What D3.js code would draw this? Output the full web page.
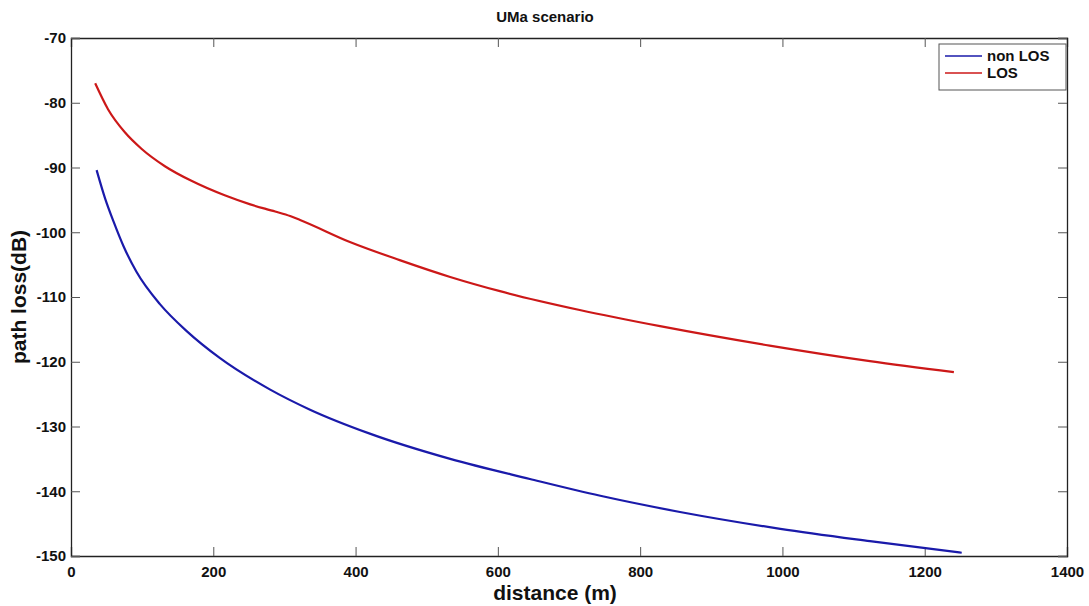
<!DOCTYPE html>
<html>
<head>
<meta charset="utf-8">
<script src="https://cdn.jsdelivr.net/npm/d3@7"></script>
<style>
  html, body { margin: 0; padding: 0; background: #fff; }
  svg { display: block; font-family: "Liberation Sans", Arial, Helvetica, sans-serif; }
</style>
</head>
<body>
<svg id="chart" width="1089" height="606"></svg>
<script>
// ---- data ----
const title = "UMa scenario";
const xLabel = "distance (m)";
const yLabel = "path loss(dB)";
const xTicks = [0, 200, 400, 600, 800, 1000, 1200, 1400];
const yTicks = [-70, -80, -90, -100, -110, -120, -130, -140, -150];
const seriesNames = ["non LOS", "LOS"];

const nlosDistance = [36, 48, 60, 74, 92, 125, 163, 209, 280, 336, 420, 533, 645, 744, 856, 997, 1123, 1252];
const nlosLoss = [-90.4, -94.8, -98.4, -102.2, -106.1, -111.1, -115.3, -119.4, -124.3, -127.4, -131.1, -135.0, -138.1, -140.7, -143.2, -145.8, -147.7, -149.5];

const losDistance = [34, 52, 76, 99, 132, 170, 216, 252, 287, 308, 322, 392, 462, 533, 603, 715, 828, 982, 1123, 1241];
const losLoss = [-77.0, -81.0, -84.6, -87.1, -89.8, -92.1, -94.3, -95.7, -96.8, -97.5, -98.1, -101.5, -104.3, -106.9, -109.1, -112.0, -114.5, -117.5, -119.9, -121.6];

// ---- layout ----
const svg = d3.select("#chart");
const L = 71, R = 1067, T = 38, B = 556;

const x = d3.scaleLinear().domain([0, 1400]).range([L, R]);
const y = d3.scaleLinear().domain([-150, -70]).range([B, T]);

svg.append("rect").attr("x", 0).attr("y", 0).attr("width", 1089).attr("height", 606).attr("fill", "#fff");

// axes with inward ticks (MATLAB style)
const tickLen = 9;
const fmt = d => String(d);
const axB = svg.append("g").attr("transform", `translate(0,${B})`)
  .call(d3.axisBottom(x).tickValues(xTicks).tickSize(-tickLen).tickPadding(7).tickFormat(fmt));
const axT = svg.append("g").attr("transform", `translate(0,${T})`)
  .call(d3.axisTop(x).tickValues(xTicks).tickSize(-tickLen).tickFormat(""));
const axL = svg.append("g").attr("transform", `translate(${L},0)`)
  .call(d3.axisLeft(y).tickValues(yTicks).tickSize(-tickLen).tickPadding(5).tickFormat(fmt));
const axR = svg.append("g").attr("transform", `translate(${R},0)`)
  .call(d3.axisRight(y).tickValues(yTicks).tickSize(-tickLen).tickFormat(""));

[axB, axT, axL, axR].forEach(g => {
  g.select(".domain").attr("stroke", "#222").attr("stroke-width", 1.3);
  g.selectAll(".tick line").attr("stroke", "#555").attr("stroke-width", 1);
  g.selectAll(".tick text").attr("fill", "#111").style("font-size", "15px").style("font-weight", "bold")
    .style("font-family", "'Liberation Sans', Arial, sans-serif");
});
axB.selectAll(".tick text").attr("dy", "0.9em");

// lines
const line = d3.line().x(d => x(d[0])).y(d => y(d[1])).curve(d3.curveMonotoneX);
const nlos = nlosDistance.map((d, i) => [d, nlosLoss[i]]);
const los = losDistance.map((d, i) => [d, losLoss[i]]);
const colors = ["#1a1aaa", "#cc1818"];

svg.append("path").datum(nlos).attr("d", line).attr("fill", "none")
  .attr("stroke", colors[0]).attr("stroke-width", 2.2);
svg.append("path").datum(los).attr("d", line).attr("fill", "none")
  .attr("stroke", colors[1]).attr("stroke-width", 2.2);

// title and labels
svg.append("text").attr("x", 545).attr("y", 22).attr("text-anchor", "middle")
  .style("font-size", "15px").style("font-weight", "bold").attr("fill", "#111").text(title);
svg.append("text").attr("x", 555).attr("y", 600).attr("text-anchor", "middle")
  .style("font-size", "21px").style("font-weight", "bold").attr("fill", "#111").text(xLabel);
svg.append("text").attr("transform", `translate(26,${(T + B) / 2}) rotate(-90)`).attr("text-anchor", "middle")
  .style("font-size", "21px").style("font-weight", "bold").attr("fill", "#111").text(yLabel);

// legend
const lg = svg.append("g");
lg.append("rect").attr("x", 939).attr("y", 44).attr("width", 127).attr("height", 46)
  .attr("fill", "#fff").attr("stroke", "#555").attr("stroke-width", 1);
seriesNames.forEach((name, i) => {
  const yy = 56 + i * 17;
  lg.append("line").attr("x1", 945).attr("x2", 982).attr("y1", yy).attr("y2", yy)
    .attr("stroke", colors[i]).attr("stroke-width", 1.6);
  lg.append("text").attr("x", 987).attr("y", yy + 5).style("font-size", "15px")
    .style("font-weight", "bold").attr("fill", "#111").text(name);
});
</script>
</body>
</html>
